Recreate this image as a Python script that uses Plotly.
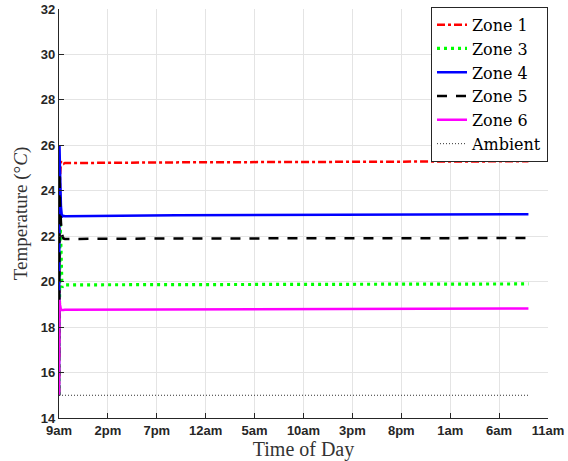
import plotly.graph_objects as go

# Simulation time in hours since 9am (start of run)
hours = [0, 0.05, 0.1, 0.2, 0.3, 0.45, 0.6, 12, 24, 36, 48]

# Zone temperatures (°C)
zone1 = [15, 21.0, 24.6, 25.3, 25.2, 25.18, 25.22, 25.25, 25.27, 25.29, 25.30]
zone3 = [15, 20.5, 22.8, 21.5, 19.75, 19.85, 19.86, 19.87, 19.88, 19.89, 19.90]
zone4 = [15, 26.0, 25.0, 23.3, 22.85, 22.9, 22.88, 22.92, 22.94, 22.96, 22.97]
zone5 = [15, 24.8, 23.5, 22.6, 22.1, 21.9, 21.88, 21.9, 21.91, 21.92, 21.92]
zone6 = [15, 19.2, 19.0, 18.75, 18.74, 18.75, 18.76, 18.78, 18.80, 18.81, 18.82]
ambient = [15] * len(hours)

# Axis ticks
tick_hours = [0, 5, 10, 15, 20, 25, 30, 35, 40, 45, 50]
tick_labels = ["9am", "2pm", "7pm", "12am", "5am", "10am", "3pm", "8pm", "1am", "6am", "11am"]
temp_ticks = [14, 16, 18, 20, 22, 24, 26, 28, 30, 32]

series = [
    ("Zone 1", zone1, "#ff0000", 2.5, "8px,3px,3px,3px"),
    ("Zone 3", zone3, "#00ff00", 3.2, "3px,4px"),
    ("Zone 4", zone4, "#0000ff", 2.5, "solid"),
    ("Zone 5", zone5, "#000000", 2.5, "10px,9px"),
    ("Zone 6", zone6, "#ff00ff", 2.5, "solid"),
    ("Ambient", ambient, "#333333", 1, "1px,2px"),
]

fig = go.Figure()
for name, vals, color, width, dash in series:
    fig.add_trace(go.Scatter(
        x=hours, y=vals, mode="lines", name=name,
        line=dict(color=color, width=width, dash=dash),
    ))

axis_color = "#262626"
fig.update_layout(
    width=568, height=461,
    margin=dict(l=59, r=20, t=8, b=43),
    paper_bgcolor="white", plot_bgcolor="white",
    showlegend=True,
    legend=dict(
        x=1, xanchor="right", y=1.003, yanchor="top",
        bgcolor="white", bordercolor="#262626", borderwidth=1,
        font=dict(family="DejaVu Serif", size=16, color="black"),
        tracegroupgap=0, itemwidth=30,
    ),
    xaxis=dict(
        range=[0, 50], tickvals=tick_hours, ticktext=tick_labels,
        automargin=False,
        showgrid=True, gridcolor="#e4e4e4", gridwidth=1,
        showline=True, linecolor=axis_color, linewidth=1.2,
        ticks="inside", ticklen=5, tickcolor=axis_color,
        tickfont=dict(family="Liberation Sans", size=13, color=axis_color, weight="bold"),
        zeroline=False,
        title=dict(text="Time of Day", standoff=2,
                   font=dict(family="Liberation Serif", size=20, color="#333333")),
    ),
    yaxis=dict(
        range=[14, 32], tickvals=temp_ticks,
        automargin=False,
        showgrid=True, gridcolor="#e4e4e4", gridwidth=1,
        showline=True, linecolor=axis_color, linewidth=1.2,
        ticks="inside", ticklen=5, tickcolor=axis_color,
        tickfont=dict(family="Liberation Sans", size=13, color=axis_color, weight="bold"),
        zeroline=False,
        title=dict(text="Temperature (°<i>C</i>)", standoff=8,
                   font=dict(family="Liberation Serif", size=19, color="#333333")),
    ),
)

fig.write_html("out.html")
